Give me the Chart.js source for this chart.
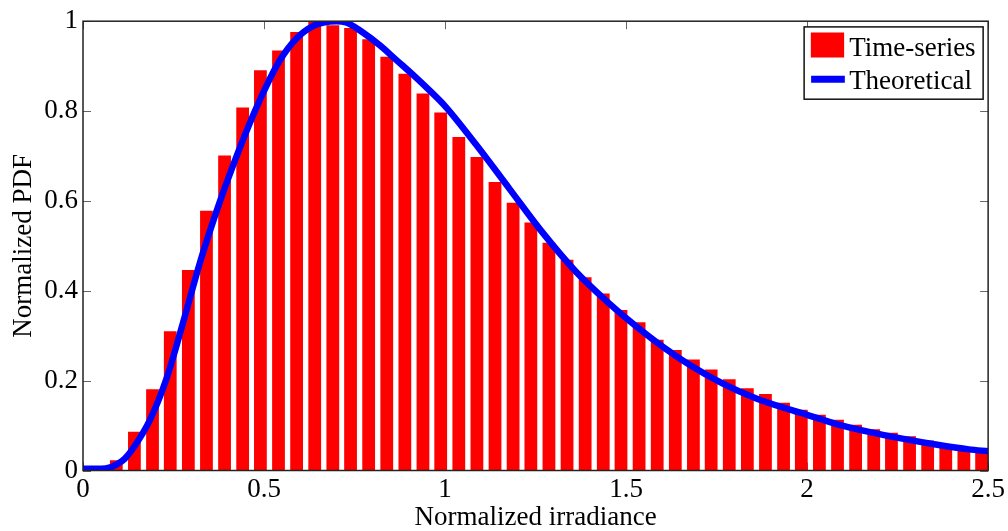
<!DOCTYPE html>
<html><head><meta charset="utf-8">
<script src="https://cdn.jsdelivr.net/npm/chart.js@4.4.1/dist/chart.umd.min.js"></script>
<style>html,body{margin:0;padding:0;background:#fff;}canvas{display:block;}</style>
</head><body>
<canvas id="c" width="1008" height="531"></canvas>
<script>
// ---- data ----
const binCenters = [0.092,0.142,0.192,0.241,0.291,0.341,0.391,0.441,0.490,0.540,
  0.590,0.640,0.690,0.739,0.789,0.839,0.889,0.939,0.988,1.038,
  1.088,1.138,1.188,1.237,1.287,1.337,1.387,1.437,1.486,1.536,
  1.586,1.636,1.686,1.735,1.785,1.835,1.885,1.935,1.984,2.034,
  2.084,2.134,2.184,2.233,2.283,2.333,2.383,2.433,2.482];
const timeSeries = [0.023,0.086,0.181,0.310,0.446,0.578,0.701,0.808,0.891,0.935,
  0.976,1.000,0.991,0.985,0.960,0.921,0.883,0.839,0.797,0.742,
  0.698,0.642,0.596,0.552,0.507,0.469,0.430,0.394,0.357,0.330,
  0.291,0.268,0.247,0.225,0.203,0.183,0.170,0.151,0.135,0.124,
  0.113,0.102,0.092,0.084,0.076,0.067,0.059,0.052,0.047];
const curveX = [0,0.05,0.075,0.092,0.115,0.138,0.184,0.230,0.276,0.322,0.368,0.414,0.460,0.506,0.543,0.589,0.635,0.680,0.700,0.727,0.773,0.819,0.865,0.911,0.957,1.0,1.085,1.177,1.269,1.361,1.453,1.499,1.582,1.674,1.766,1.858,1.950,2.0,2.079,2.171,2.263,2.355,2.447,2.5];
const curveY = [0.004,0.004,0.007,0.013,0.026,0.049,0.111,0.203,0.328,0.460,0.575,0.678,0.772,0.855,0.912,0.961,0.989,0.999,1.0,0.997,0.975,0.947,0.914,0.881,0.846,0.811,0.726,0.628,0.530,0.443,0.372,0.340,0.287,0.236,0.194,0.161,0.136,0.124,0.104,0.086,0.071,0.058,0.047,0.043];
const xTickValues = [0,0.5,1,1.5,2,2.5];
const xTickLabels = ['0','0.5','1','1.5','2','2.5'];
const yTickValues = [0,0.2,0.4,0.6,0.8,1];
const yTickLabels = ['0','0.2','0.4','0.6','0.8','1'];
const seriesNames = ['Time-series','Theoretical'];
const xTitle = 'Normalized irradiance';
const yTitle = 'Normalized PDF';

const FAMILY = "'Liberation Serif','Times New Roman',serif";
const FSIZE = 27;

const framePlugin = {
  id: 'frame',
  beforeDatasetsDraw(chart) {
    const {ctx, chartArea: a, scales: {x, y}} = chart;
    ctx.save();
    ctx.strokeStyle = '#666'; ctx.lineWidth = 1;
    const L = 8;
    ctx.beginPath();
    xTickValues.forEach(v => {
      const px = Math.round(x.getPixelForValue(v)) + 0.5;
      ctx.moveTo(px, a.bottom); ctx.lineTo(px, a.bottom - L);
      ctx.moveTo(px, a.top); ctx.lineTo(px, a.top + L);
    });
    yTickValues.forEach(v => {
      const py = Math.round(y.getPixelForValue(v)) + 0.5;
      ctx.moveTo(a.left, py); ctx.lineTo(a.left + L, py);
      ctx.moveTo(a.right, py); ctx.lineTo(a.right - L, py);
    });
    ctx.stroke();
    ctx.restore();
  },
  afterDraw(chart) {
    const {ctx, chartArea: a} = chart;
    ctx.save();
    ctx.strokeStyle = '#222'; ctx.lineWidth = 1.5;
    ctx.strokeRect(a.left, a.top, a.right - a.left, a.bottom - a.top);
    // legend box
    const bx = a.right - 184, by = a.top + 5.7, bw = 179, bh = 72.3;
    ctx.fillStyle = '#fff';
    ctx.fillRect(bx, by, bw, bh);
    ctx.strokeStyle = '#111'; ctx.lineWidth = 1.5;
    ctx.strokeRect(bx, by, bw, bh);
    const ds = chart.data.datasets;
    const barDs = ds.find(d => d.type === 'bar');
    const lineDs = ds.find(d => d.type === 'line');
    ctx.fillStyle = barDs.backgroundColor;
    ctx.fillRect(bx + 6.7, by + 5.6, 33.3, 25);
    ctx.strokeStyle = lineDs.borderColor; ctx.lineWidth = 7;
    ctx.beginPath(); ctx.moveTo(bx + 7, by + 52.3); ctx.lineTo(bx + 40.7, by + 52.3); ctx.stroke();
    ctx.fillStyle = '#000';
    ctx.font = FSIZE + 'px ' + FAMILY;
    ctx.textBaseline = 'alphabetic'; ctx.textAlign = 'left';
    ctx.fillText(barDs.label, bx + 45, by + 29);
    ctx.fillText(lineDs.label, bx + 45, by + 62.3);
    ctx.restore();
  }
};

Chart.defaults.font.family = FAMILY;
Chart.defaults.font.size = FSIZE;
Chart.defaults.color = '#000';

new Chart(document.getElementById('c'), {
  type: 'bar',
  data: {
    datasets: [
      {
        type: 'bar',
        label: seriesNames[0],
        data: binCenters.map((x, i) => ({x: x, y: timeSeries[i]})),
        backgroundColor: '#ff0000',
        borderWidth: 0,
        barPercentage: 0.72,
        categoryPercentage: 1.0,
        order: 1
      },
      {
        type: 'line',
        label: seriesNames[1],
        data: curveX.map((x, i) => ({x: x, y: curveY[i]})),
        borderColor: '#0000ff',
        borderWidth: 6.5,
        pointRadius: 0,
        cubicInterpolationMode: 'monotone',
        fill: false,
        clip: 0,
        order: 0
      }
    ]
  },
  options: {
    responsive: false,
    animation: false,
    devicePixelRatio: 1,
    layout: {padding: {left: 0, top: 17, right: 19, bottom: 0}},
    plugins: {legend: {display: false}, tooltip: {enabled: false}},
    scales: {
      x: {
        type: 'linear', min: 0, max: 2.5, offset: false,
        grid: {display: false, drawTicks: false},
        border: {display: false},
        afterBuildTicks: s => { s.ticks = xTickValues.map(v => ({value: v})); },
        afterFit: s => { s.height = 60.5; },
        ticks: {padding: 3, maxRotation: 0, autoSkip: false,
          callback: (v, i) => xTickLabels[i]},
        title: {display: true, text: xTitle, padding: {top: 0, bottom: -3}}
      },
      y: {
        type: 'linear', min: 0, max: 1,
        grid: {display: false, drawTicks: false},
        border: {display: false},
        afterBuildTicks: s => { s.ticks = yTickValues.map(v => ({value: v})); },
        afterFit: s => { s.width = 83; },
        ticks: {padding: 5, autoSkip: false,
          callback: (v, i) => yTickLabels[i]},
        title: {display: true, text: yTitle, padding: {top: 8, bottom: 0}}
      }
    }
  },
  plugins: [framePlugin]
});
</script>
</body></html>
